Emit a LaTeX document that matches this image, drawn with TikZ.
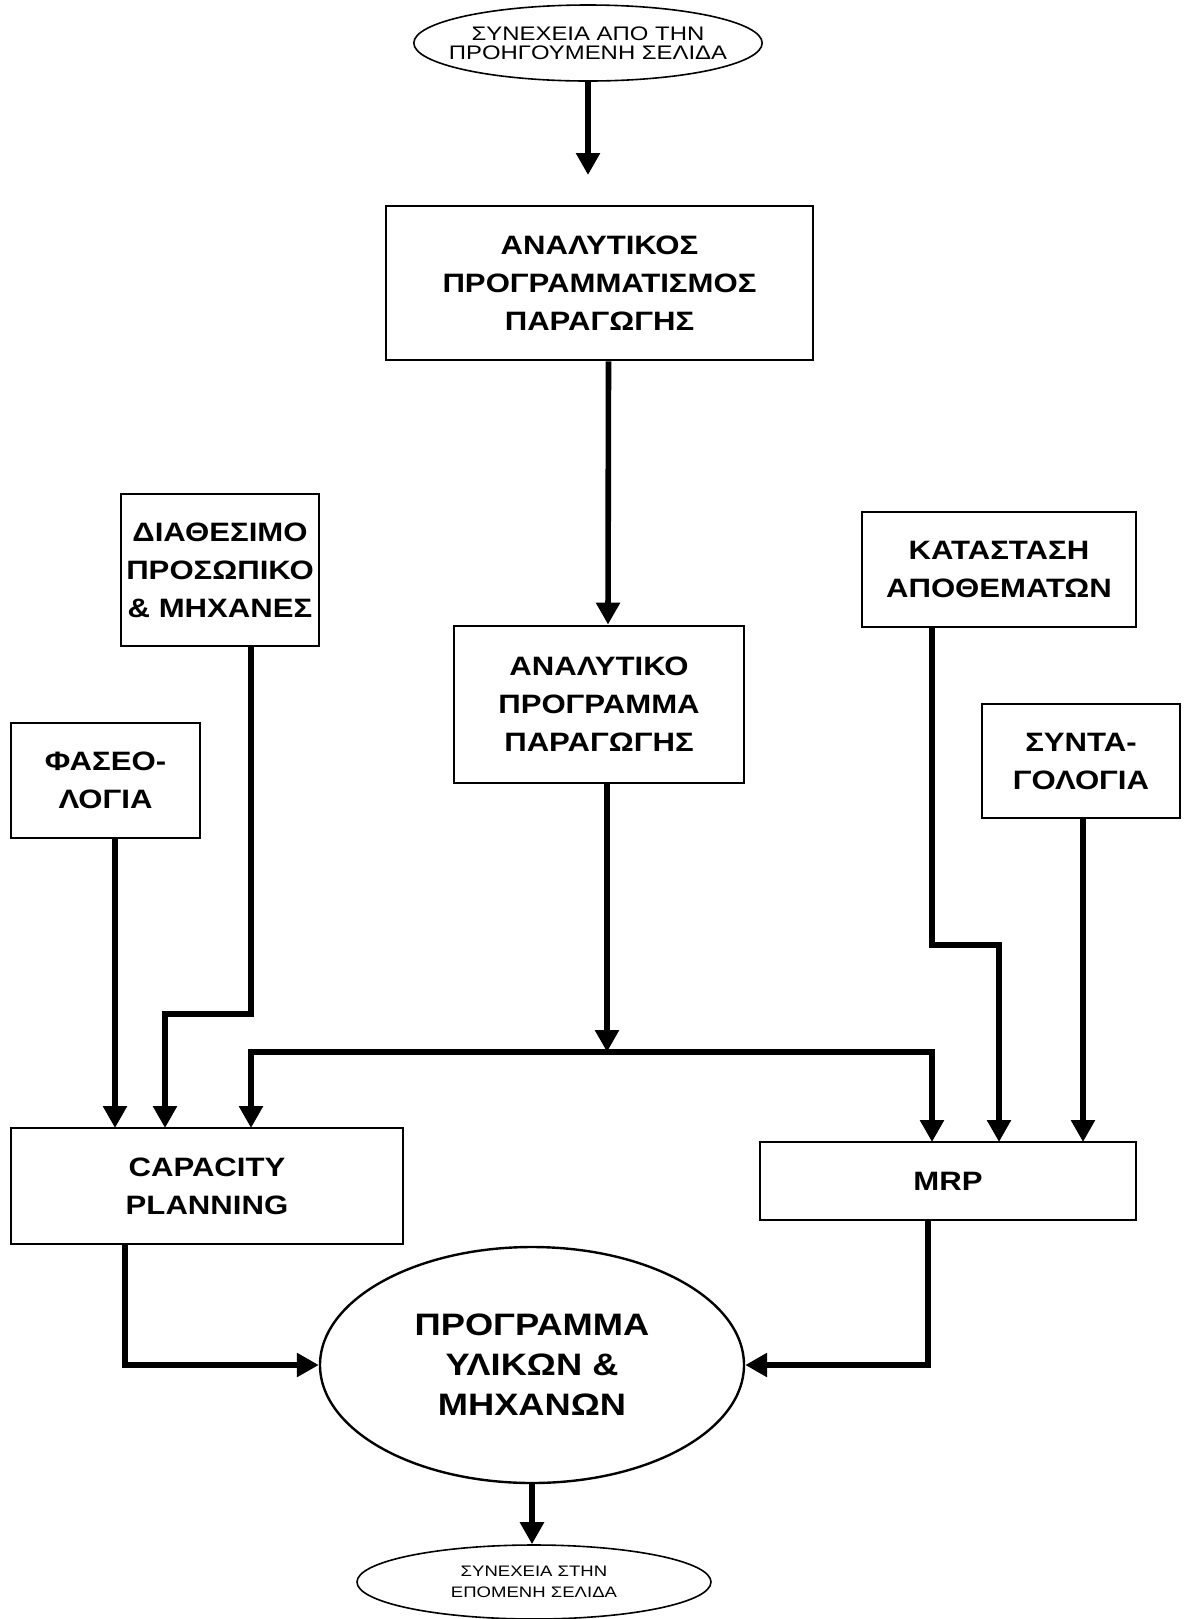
\documentclass[tikz,border=0pt]{standalone}
\usepackage{fontspec}
\setmainfont{Liberation Sans}[FakeStretch=1.17]
\newfontfamily\notefont{Liberation Sans}[FakeStretch=1.22]
\usetikzlibrary{arrows.meta,shapes.geometric}

\begin{document}
\begin{tikzpicture}[
  x=0.5pt,y=-0.5pt,
  >={Triangle[length=11pt,width=11.5pt]},
  block/.style={draw,line width=1.4pt,align=center,inner sep=0pt,
    font=\fontsize{13.3}{19}\selectfont\bfseries},
  plan/.style={ellipse,draw,line width=1.2pt,align=center,inner sep=0pt,
    font=\fontsize{15.5}{20}\selectfont\bfseries},
  page/.style={ellipse,draw,line width=0.8pt,align=center,
    inner xsep=-8pt,inner ysep=0pt},
  flow/.style={->,line width=2.8pt}
]
\useasboundingbox (0,0) rectangle (1184,1619);

% page links
\node[page,minimum width=172pt,minimum height=38pt,
  font=\notefont\fontsize{9.8}{9.75}\selectfont] (start) at (588,43)
  {ΣΥΝΕΧΕΙΑ ΑΠΟ ΤΗΝ\\ΠΡΟΗΓΟΥΜΕΝΗ ΣΕΛΙΔΑ};
\node[page,minimum width=177pt,minimum height=37pt,
  font=\notefont\fontsize{7.6}{10.5}\selectfont] (next) at (534,1582)
  {ΣΥΝΕΧΕΙΑ ΣΤΗΝ\\ΕΠΟΜΕΝΗ ΣΕΛΙΔΑ};

% boxes
\node[block,minimum width=213.5pt,minimum height=77pt] (anal) at (599.5,283)
  {ΑΝΑΛΥΤΙΚΟΣ\\ΠΡΟΓΡΑΜΜΑΤΙΣΜΟΣ\\ΠΑΡΑΓΩΓΗΣ};
\node[block,minimum width=145pt,minimum height=78.5pt] (prog) at (599,704.5)
  {ΑΝΑΛΥΤΙΚΟ\\ΠΡΟΓΡΑΜΜΑ\\ΠΑΡΑΓΩΓΗΣ};
\node[block,minimum width=99pt,minimum height=76pt] (staff) at (220,570)
  {ΔΙΑΘΕΣΙΜΟ\\ΠΡΟΣΩΠΙΚΟ\\\& ΜΗΧΑΝΕΣ};
\node[block,minimum width=94.5pt,minimum height=57.5pt] (phase) at (105.5,780.5)
  {ΦΑΣΕΟ-\\ΛΟΓΙΑ};
\node[block,minimum width=137pt,minimum height=57.5pt] (stock) at (999,569.5)
  {ΚΑΤΑΣΤΑΣΗ\\ΑΠΟΘΕΜΑΤΩΝ};
\node[block,minimum width=99pt,minimum height=57pt] (synt) at (1081,761)
  {ΣΥΝΤΑ-\\ΓΟΛΟΓΙΑ};
\node[block,minimum width=196pt,minimum height=58pt] (cap) at (207,1186)
  {CAPACITY\\PLANNING};
\node[block,minimum width=188pt,minimum height=39pt] (mrp) at (948,1181)
  {MRP};
\node[plan,minimum width=212pt,minimum height=118pt] (prod) at (532,1365)
  {ΠΡΟΓΡΑΜΜΑ\\ΥΛΙΚΩΝ \&\\ΜΗΧΑΝΩΝ};

% connector points
\coordinate (annin) at (588,175);
\coordinate (bus) at (607,1052);
\coordinate (s1) at (251,1014);
\coordinate (k1) at (932,945);
\coordinate (c1) at (115,1128);
\coordinate (c2) at (165,1128);
\coordinate (c3) at (251,1128);
\coordinate (m1) at (932,1142);
\coordinate (m2) at (999,1142);
\coordinate (m3) at (1083,1142);
\coordinate (cp) at (125,1244);
\coordinate (mp) at (928,1220);

% connectors
\draw[flow] (start.south) -- (annin);
\draw[flow] ([xshift=4.5pt]anal.south) -- ([xshift=4.5pt]prog.north);
\draw[flow] ([xshift=4pt]prog.south) -- (bus);
\draw[flow] (bus) -| (c3);
\draw[flow] (bus) -| (m1);
\draw[flow] (phase.south -| c1) -- (c1);
\draw[flow] (staff.south -| s1) -- (s1) -| (c2);
\draw[flow] (stock.south -| k1) -- (k1) -| (m2);
\draw[flow] (synt.south -| m3) -- (m3);
\draw[flow] (cp) |- (prod.west);
\draw[flow] (mp) |- (prod.east);
\draw[flow] (prod.south) -- (prod.south |- next.north);
\end{tikzpicture}
\end{document}
